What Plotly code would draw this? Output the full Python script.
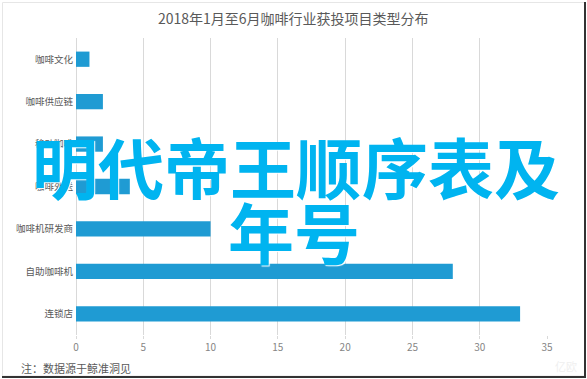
import plotly.graph_objects as go

categories = ["咖啡文化", "咖啡供应链", "移动咖啡", "咖啡外送", "咖啡机研发商", "自助咖啡机", "连锁店"]
values = [1, 2, 2, 4, 10, 28, 33]
x_ticks = [0, 5, 10, 15, 20, 25, 30, 35]
title_text = "2018年1月至6月咖啡行业获投项目类型分布"
overlay_line1 = "明代帝王顺序表及"
overlay_line2 = "年号"
note_text = "注：数据源于鲸准洞见"

W, H = 587, 379
L, R, T, B = 76, 40, 38, 44
pw, ph = W - L - R, H - T - B

def px(x):
    return (x - L) / pw

def py(y):
    return (H - B - y) / ph

CJK = "Noto Sans CJK SC, Noto Sans, sans-serif"

fig = go.Figure(go.Bar(
    x=values, y=categories, orientation="h",
    marker=dict(color="#1F9BD3", line=dict(width=0)),
    width=0.36,
))

fig.update_layout(
    width=W, height=H,
    margin=dict(l=L, r=R, t=T, b=B),
    paper_bgcolor="white", plot_bgcolor="white",
    showlegend=False,
    font=dict(family=CJK, color="#595959"),
    xaxis=dict(
        range=[0, 35], tickvals=x_ticks, ticktext=[str(v) for v in x_ticks],
        showgrid=True, gridcolor="#D9D9D9", gridwidth=1,
        zeroline=True, zerolinecolor="#D9D9D9", zerolinewidth=1,
        showline=False, ticks="outside", ticklen=3, tickcolor="#D9D9D9",
        tickfont=dict(size=10, color="#858585", family=CJK),
        fixedrange=True,
    ),
    yaxis=dict(
        categoryorder="array", categoryarray=categories, autorange="reversed",
        showgrid=False, zeroline=False, showline=False, ticks="",
        tickfont=dict(size=9.5, color="#595959", family=CJK),
        ticklabelstandoff=2,
        fixedrange=True,
    ),
)

annotations = [
    dict(text=title_text, x=px(293), y=py(18), xref="paper", yref="paper",
         showarrow=False, xanchor="center", yanchor="middle",
         font=dict(size=14, color="#595959", family=CJK)),
    dict(text=note_text, x=px(19), y=py(368), xref="paper", yref="paper",
         showarrow=False, xanchor="left", yanchor="middle",
         font=dict(size=11, color="#595959", family=CJK)),
    dict(text=overlay_line1, x=px(296), y=py(165), xref="paper", yref="paper",
         showarrow=False, xanchor="center", yanchor="middle",
         font=dict(size=66, color="#00B4F0", family=CJK, weight=700,
                   shadow="1px 1px 1px white")),
    dict(text=overlay_line2, x=px(294), y=py(230), xref="paper", yref="paper",
         showarrow=False, xanchor="center", yanchor="middle",
         font=dict(size=66, color="#00B4F0", family=CJK, weight=700,
                   shadow="1px 1px 1px white")),
    dict(text="亿欧", x=px(566), y=py(366), xref="paper", yref="paper",
         showarrow=False, xanchor="center", yanchor="middle",
         font=dict(size=11, color="#EFEFEF", family=CJK)),
]
fig.update_layout(annotations=annotations)

shapes = [
    dict(type="rect", xref="paper", yref="paper",
         x0=px(2.5), x1=px(584.5), y0=py(376), y1=py(2.5),
         line=dict(color="#E6E6E6", width=1), fillcolor="rgba(0,0,0,0)", layer="below"),
    dict(type="line", xref="paper", yref="paper",
         x0=px(585), x1=px(585), y0=py(377), y1=py(2),
         line=dict(color="#333333", width=2)),
    dict(type="line", xref="paper", yref="paper",
         x0=px(2), x1=px(586), y0=py(377), y1=py(377),
         line=dict(color="#333333", width=2)),
]
fig.update_layout(shapes=shapes)

fig.write_html("out.html")
